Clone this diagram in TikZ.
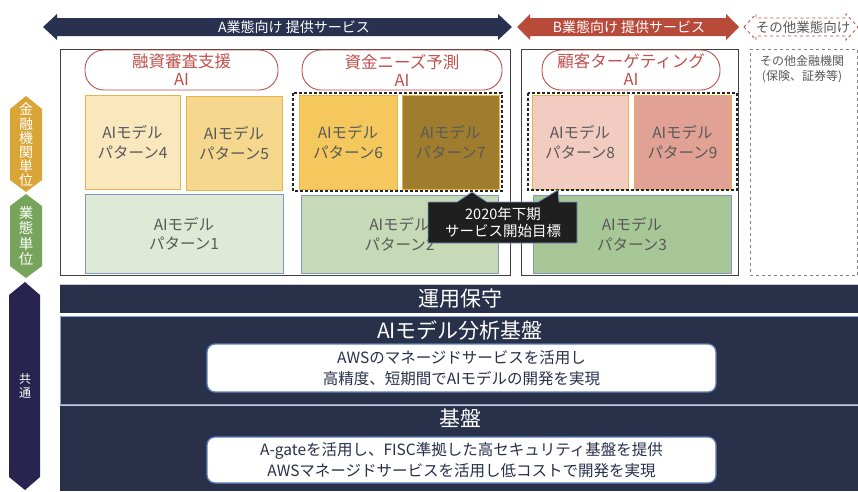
\documentclass[tikz,border=0pt]{standalone}
\usepackage{fontspec}
\setmainfont{Noto Sans CJK JP}
\usetikzlibrary{positioning}
\definecolor{navyA}{HTML}{283250}
\definecolor{redB}{HTML}{B84A3A}
\definecolor{navyP}{HTML}{28304A}
\definecolor{pillred}{HTML}{C0504D}
\definecolor{txtgray}{HTML}{595959}
\definecolor{goldb}{HTML}{E3B54C}
\definecolor{blueb}{HTML}{7F97C2}
\definecolor{cP4}{HTML}{FAE7BE}
\definecolor{cP5}{HTML}{F5D88E}
\definecolor{cP6}{HTML}{F5C85E}
\definecolor{cP7}{HTML}{A07D2E}
\definecolor{cP8}{HTML}{F3CCC1}
\definecolor{cP9}{HTML}{E1A194}
\definecolor{cP1}{HTML}{DEE9D6}
\definecolor{cP2}{HTML}{C6DAB7}
\definecolor{cP3}{HTML}{A7C796}
\definecolor{hexgold}{HTML}{D9A536}
\definecolor{hexgreen}{HTML}{76A45A}
\definecolor{hexnavy}{HTML}{27244F}
\definecolor{panelline}{HTML}{8EA2CC}
\definecolor{wboxline}{HTML}{5B7DB5}
\tikzset{
  pat/.style={draw=goldb, line width=0.8pt, align=center, text=txtgray, inner sep=0pt,
    font=\fontsize{15.5}{19.5}\selectfont},
  patg/.style={pat, draw=blueb},
  pill/.style={draw=pillred, line width=0.9pt, rounded corners=19pt, align=center, text=pillred,
    inner sep=0pt, font=\fontsize{16.5}{18}\selectfont},
  dotframe/.style={draw=black!85, line width=2.6pt, dash pattern=on 2.6pt off 2.4pt},
  hexlabel/.style={text=white, align=center, inner sep=0pt},
  ptitle/.style={text=white, font=\fontsize{21}{23}\selectfont, inner sep=0pt},
  wbox/.style={draw=wboxline, line width=1.3pt, fill=white, rounded corners=8pt, align=center,
    inner sep=0pt, text=navyP, font=\fontsize{15.5}{21.5}\selectfont},
}
\begin{document}
\begin{tikzpicture}[x=1pt,y=-1pt]
\useasboundingbox (0,0) rectangle (858,491);
\fill[white] (0,0) rectangle (858,491);

% top arrows
\fill[navyA] (43,27) -- (57,14) -- (57,18) -- (498,18) -- (498,14) -- (512,27) -- (498,40) -- (498,36) -- (57,36) -- (57,40) -- cycle;
\node[text=white, font=\fontsize{14}{16}\selectfont] (arrA) at (294,27) {A業態向け 提供サービス};
\fill[redB] (517,27) -- (530,14) -- (530,18) -- (726,18) -- (726,14) -- (739,27) -- (726,40) -- (726,36) -- (530,36) -- (530,40) -- cycle;
\node[text=white, font=\fontsize{14}{16}\selectfont] (arrB) at (629,27) {B業態向け 提供サービス};
\draw[redB, line width=0.8pt, dashed] (744,27) -- (756,14) -- (756,18) -- (846,18) -- (846,14) -- (858,27) -- (846,40) -- (846,36) -- (756,36) -- (756,40) -- cycle;
\node[text=txtgray, font=\fontsize{13.5}{15}\selectfont] (arrC) at (803,27) {その他業態向け};

% main frames
\draw[draw=black!75, line width=0.8pt] (60,49) rectangle (510,275);
\draw[draw=black!75, line width=0.8pt] (521,49) rectangle (738,275);
\draw[draw=black!50, line width=0.8pt, dashed] (750,49) -- (857.5,49) -- (857.5,275) -- (750,275) -- cycle;
\node[text=txtgray, align=center, font=\fontsize{12}{15}\selectfont] (other) at (802,69) {その他金融機関\\(保険、証券等)};

% pills
\node[pill, minimum width=193pt, minimum height=40pt] (pill1) at (181.5,70) {融資審査支援\\AI};
\node[pill, minimum width=200pt, minimum height=40pt] (pill2) at (402,70) {資金ニーズ予測\\AI};
\node[pill, minimum width=178pt, minimum height=40pt] (pill3) at (631,70) {顧客ターゲティング\\AI};

% patterns
\node[pat, fill=cP4, minimum width=95pt, minimum height=94pt] (p4) at (132.5,142) {AIモデル\\パターン4};
\node[pat, fill=cP5, minimum width=96pt, minimum height=94pt] (p5) at (234,143) {AIモデル\\パターン5};
\node[pat, fill=cP6, minimum width=98pt, minimum height=94pt] (p6) at (348,142) {AIモデル\\パターン6};
\node[pat, fill=cP7, minimum width=97pt, minimum height=94pt] (p7) at (450.5,142) {AIモデル\\パターン7};
\node[pat, fill=cP8, minimum width=96pt, minimum height=94pt] (p8) at (580,142) {AIモデル\\パターン8};
\node[pat, fill=cP9, minimum width=97pt, minimum height=94pt] (p9) at (682.5,142) {AIモデル\\パターン9};
\node[patg, fill=cP1, minimum width=198pt, minimum height=79pt] (p1) at (184,233.5) {AIモデル\\パターン1};
\node[patg, fill=cP2, minimum width=197pt, minimum height=78pt] (p2) at (399.5,234) {AIモデル\\パターン2};
\node[patg, fill=cP3, minimum width=198pt, minimum height=78pt] (p3) at (632,234) {AIモデル\\パターン3};

\draw[dotframe] (293,93) rectangle (502,191);
\draw[dotframe] (528,93) rectangle (737,190);

% callout
\draw[fill=black!88, draw=blueb, line width=0.8pt] (428,202) -- (457,202) -- (472,192) -- (487,202) -- (538,202) -- (558,190) -- (559,202) -- (577,202) -- (577,243) -- (428,243) -- cycle;
\node[text=white, align=center, font=\fontsize{14.5}{17}\selectfont] (callout) at (503,222.5) {2020年下期\\サービス開始目標};

% left hexagons
\fill[hexgold] (26,96) -- (42,109) -- (42,180) -- (26,192) -- (10,180) -- (10,109) -- cycle;
\node[hexlabel, font=\fontsize{14}{14.2}\selectfont] (hex1) at (26,145) {金\\融\\機\\関\\単\\位};
\fill[hexgreen] (26,194) -- (42,206) -- (42,266) -- (26,278) -- (10,266) -- (10,206) -- cycle;
\node[hexlabel, font=\fontsize{14.5}{15.5}\selectfont] (hex2) at (26,236) {業\\態\\単\\位};
\fill[hexnavy] (25,282) -- (40,295) -- (40,477) -- (25,490) -- (9,477) -- (9,295) -- cycle;
\node[hexlabel, font=\fontsize{12}{14}\selectfont] (hex3) at (25,386) {共\\通};

% bottom panels
\draw[black!20, line width=0.8pt] (60,284.5) -- (858,284.5);
\fill[navyP] (60,285) rectangle (858,313);
\node[ptitle] (t1) at (460,299) {運用保守};
\fill[navyP] (60,316) rectangle (858,404);
\draw[panelline, line width=1pt] (60.5,316) -- (60.5,404) -- (858,404);
\draw[panelline, line width=1pt] (60.5,316) -- (858,316);
\fill[navyP] (60,406) rectangle (858,491);
\draw[black!20, line width=1pt] (60,405) -- (858,405);
\node[ptitle] (t2) at (460,330) {AIモデル分析基盤};
\node[ptitle] (t3) at (460,418) {基盤};
\node[wbox, minimum width=509pt, minimum height=48pt] (w1) at (461.5,368) {AWSのマネージドサービスを活用し\\高精度、短期間でAIモデルの開発を実現};
\node[wbox, minimum width=509pt, minimum height=46pt] (w2) at (461.5,460) {A-gateを活用し、FISC準拠した高セキュリティ基盤を提供\\AWSマネージドサービスを活用し低コストで開発を実現};
\end{tikzpicture}
\end{document}
